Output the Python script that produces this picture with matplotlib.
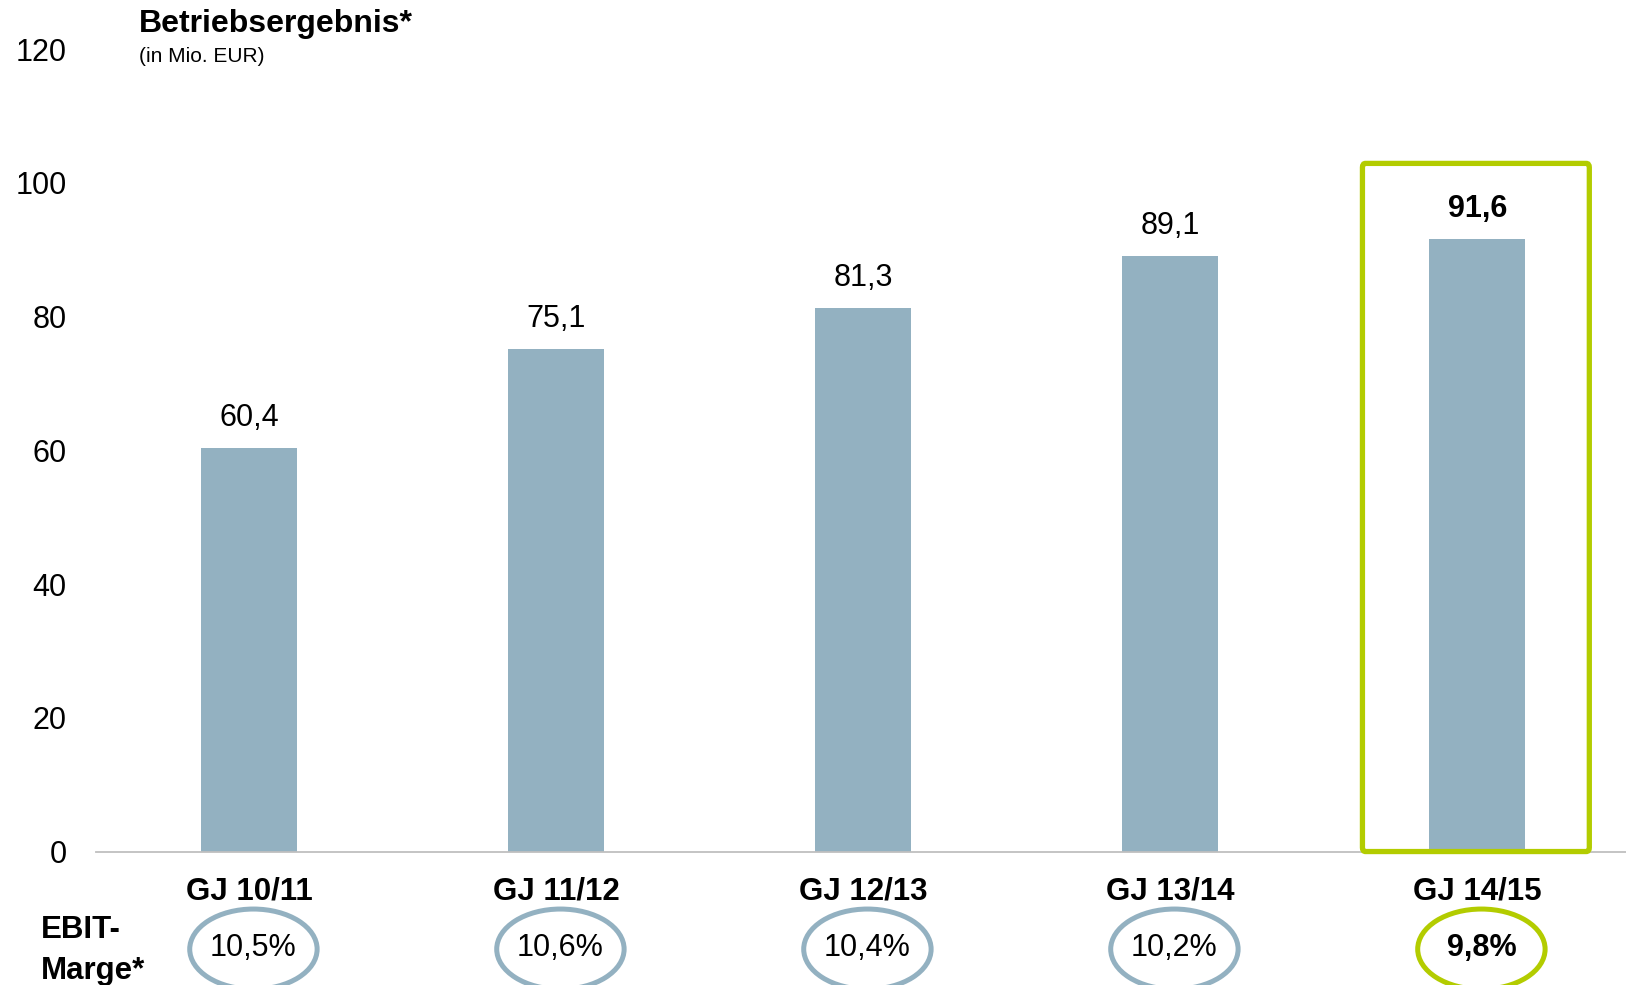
import matplotlib.pyplot as plt
from matplotlib.patches import Ellipse, FancyBboxPatch

plt.rcParams['font.family'] = ['Liberation Sans', 'DejaVu Sans']

# Daten
jahre = ['GJ 10/11', 'GJ 11/12', 'GJ 12/13', 'GJ 13/14', 'GJ 14/15']
ebit = [60.4, 75.1, 81.3, 89.1, 91.6]
marge = ['10,5%', '10,6%', '10,4%', '10,2%', '9,8%']
yticks = [0, 20, 40, 60, 80, 100, 120]

blau = '#93B1C1'
gruen = '#B3CC00'

fig = plt.figure(figsize=(16.26, 9.85), dpi=100)
ax = fig.add_axes([0.059, 0.1355, 0.941, 0.8147])

x = list(range(len(jahre)))
ax.bar(x, ebit, width=0.313, color=blau, zorder=2)

# Werte ueber den Balken
for i, v in enumerate(ebit):
    letzter = (i == len(ebit) - 1)
    ax.annotate(f'{v:.1f}'.replace('.', ','), (i, v), xytext=(0, 21.5),
                textcoords='offset points', ha='center', va='center',
                fontsize=22, fontweight='bold' if letzter else 'normal')

# gruener Rahmen um das letzte Jahr
n = len(jahre) - 1
rahmen = FancyBboxPatch((n - 0.3745, 0), 0.739, 102.9,
                        boxstyle='round,pad=0,rounding_size=0.01',
                        fill=False, edgecolor=gruen, linewidth=3.8,
                        clip_on=False, zorder=3, mutation_aspect=60)
ax.add_patch(rahmen)

# EBIT-Marge Ellipsen
for i, m in enumerate(marge):
    letzter = (i == len(marge) - 1)
    farbe = gruen if letzter else blau
    e = Ellipse((i + 0.013, -14.6), 0.415, 12.0, fill=False,
                edgecolor=farbe, linewidth=3.6, clip_on=False)
    ax.add_patch(e)
    ax.text(i + 0.013, -14.5, m, ha='center', va='center', fontsize=22,
            fontweight='bold' if letzter else 'normal', clip_on=False)

ax.set_xlim(-0.5, 4.484)
ax.set_ylim(0, 120)
ax.set_yticks(yticks)
ax.set_yticklabels([str(t) for t in yticks], fontsize=22)
ax.set_xticks(x)
ax.set_xticklabels(jahre, fontsize=22.5, fontweight='bold')
ax.tick_params(axis='y', length=0, pad=21)
ax.tick_params(axis='x', length=0, pad=18)

for s in ['top', 'right', 'left']:
    ax.spines[s].set_visible(False)
ax.spines['bottom'].set_color('#BFBFBF')
ax.spines['bottom'].set_linewidth(1.3)

fig.text(0.0853, 0.9675, 'Betriebsergebnis*', fontsize=23, fontweight='bold',
         ha='left', va='baseline')
fig.text(0.0853, 0.937, '(in Mio. EUR)', fontsize=15, ha='left', va='baseline')
fig.text(0.0252, 0.035, 'EBIT-\nMarge*', fontsize=22.5, fontweight='bold',
         ha='left', va='center', linespacing=1.45)

fig.savefig('out.png', dpi=100)
